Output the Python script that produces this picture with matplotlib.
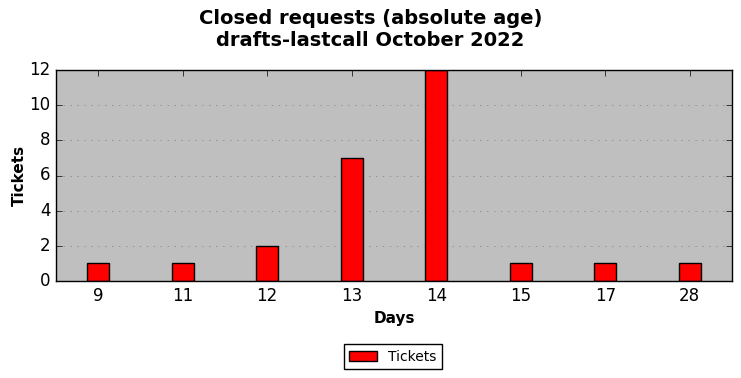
import matplotlib
matplotlib.use("Agg")
import matplotlib.pyplot as plt
import numpy as np

# Closed requests per age in days
days = ["9", "11", "12", "13", "14", "15", "17", "28"]
tickets = [1, 1, 2, 7, 12, 1, 1, 1]

plt.style.use("classic")
fig = plt.figure(figsize=(7.41, 3.78), dpi=100)
ax = fig.add_axes([56/741, 1 - 281/378, 676/741, 211/378])

x = np.arange(len(days))
ax.bar(x, tickets, width=0.26, color="red", edgecolor="black", align="center", label="Tickets")

ax.set_facecolor("#bfbfbf")
ax.set_xlim(-0.5, len(days) - 0.5)
ax.set_ylim(0, 12)
ax.set_xticks(x)
ax.set_xticklabels(days)
ax.tick_params(labelsize=12)
ax.yaxis.grid(True, linestyle=(0, (1, 4)), color="#808080")
ax.set_axisbelow(True)

ax.set_xlabel("Days", fontsize=11, fontweight="bold")
ax.set_ylabel("Tickets", fontsize=11, fontweight="bold", labelpad=2)
fig.suptitle("Closed requests (absolute age)\ndrafts-lastcall October 2022",
             fontsize=14, fontweight="bold", y=0.975)

fig.legend(loc="lower center", bbox_to_anchor=(0.53, 0.005), fontsize=10,
           handlelength=2, borderpad=0.4)

fig.savefig("out.png", dpi=100)
